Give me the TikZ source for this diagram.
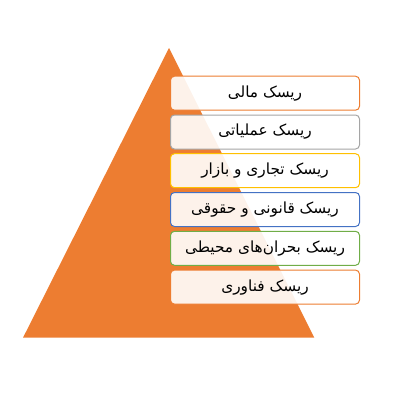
\documentclass[tikz,border=0pt]{standalone}
\usepackage{fontspec}
\TeXXeTstate=1
\newfontfamily\arabicfont[Script=Arabic]{DejaVu Sans}
\definecolor{accOrange}{HTML}{ED7D31}
\definecolor{accGray}{HTML}{A5A5A5}
\definecolor{accGold}{HTML}{FFC000}
\definecolor{accBlue}{HTML}{4472C4}
\definecolor{accGreen}{HTML}{70AD47}
\tikzset{
  riskbox/.style={draw=#1, line width=0.75pt, fill=white, fill opacity=0.9, text opacity=1,
    rounded corners=3pt, minimum width=141.75pt, minimum height=25.5pt,
    inner sep=0pt, anchor=north west, font=\arabicfont\fontsize{11.5}{13}\selectfont}
}
\begin{document}
\begin{tikzpicture}[x=0.75pt,y=-0.75pt]
\useasboundingbox (0,0) rectangle (400,400);
\fill[accOrange] (169,48) coordinate (apex) -- (23,337.7) coordinate (bl) -- (314.3,337.7) coordinate (br) -- cycle;
\node[riskbox=accOrange] (b1) at (170,75.7) {\beginR ریسک مالی\endR};
\node[riskbox=accGray] (b2) at (170,114.5) {\beginR ریسک عملیاتی\endR};
\node[riskbox=accGold] (b3) at (170,153.2) {\beginR ریسک تجاری و بازار\endR};
\node[riskbox=accBlue] (b4) at (170,192) {\beginR ریسک قانونی و حقوقی\endR};
\node[riskbox=accGreen] (b5) at (170,230.8) {\beginR ریسک بحران‌های محیطی\endR};
\node[riskbox=accOrange] (b6) at (170,269.6) {\beginR ریسک فناوری\endR};
\end{tikzpicture}
\end{document}
